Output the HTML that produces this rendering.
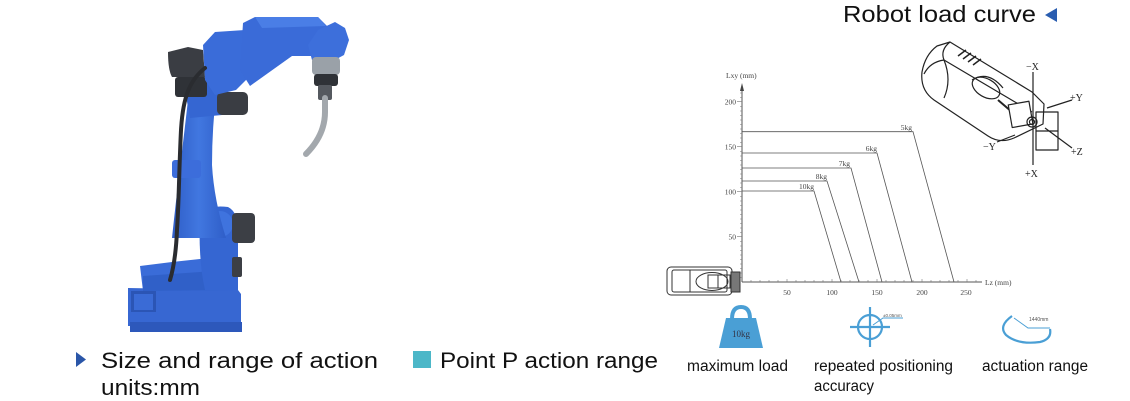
<!DOCTYPE html>
<html><head><meta charset="utf-8"><style>
html,body{margin:0;padding:0;background:#fff;}
svg{display:block;}
</style></head><body>
<svg width="1130" height="401" viewBox="0 0 1130 401" xmlns="http://www.w3.org/2000/svg">
<defs>
  <linearGradient id="bl" x1="0" y1="0" x2="1" y2="0">
    <stop offset="0" stop-color="#2f5ec8"/>
    <stop offset="0.5" stop-color="#4177e0"/>
    <stop offset="1" stop-color="#2f5ec8"/>
  </linearGradient>
</defs>
<rect width="1130" height="401" fill="#fff"/>

<!-- ROBOT -->
<g>
  <!-- base -->
  <polygon points="128,288 238,290 241,294 241,326 128,326" fill="#3767d2"/>
  <rect x="130" y="322" width="112" height="10" fill="#2d58bb"/>
  <rect x="131" y="291" width="25" height="21" fill="#2b55b5"/>
  <rect x="134" y="294" width="19" height="16" fill="#3a6bd6"/>
  <!-- waist -->
  <polygon points="140,266 172,262 200,259 232,252 235,290 143,291" fill="#3a6cd8"/>
  <polygon points="143,276 200,272 233,268 234,290 143,291" fill="#3060c8"/>
  <!-- turret -->
  <path d="M200,212 Q210,205 228,207 Q238,212 238,230 L238,290 L205,290 Q198,260 200,212 Z" fill="#3566d2"/>
  <circle cx="220" cy="224" r="13" fill="#3f73de"/>
  <!-- lower motors -->
  <rect x="232" y="213" width="23" height="30" rx="4" fill="#3c3f45"/>
  <rect x="232" y="257" width="10" height="20" rx="2" fill="#3c3f45"/>
  <!-- column -->
  <path d="M172,238 Q176,200 180,168 Q184,135 188,100 L216,96 Q212,130 212,165 Q214,200 226,238 Z" fill="url(#bl)"/>
  <!-- clamp -->
  <rect x="172" y="160" width="29" height="18" rx="3" fill="#3c6ddb"/>
  <!-- link under elbow -->
  <polygon points="183,80 220,76 222,115 190,118" fill="#3566d2"/>
  <!-- upper motors -->
  <path d="M168,52 L188,47 L203,50 L205,77 L172,77 Q168,70 168,52 Z" fill="#3a3d43"/>
  <rect x="175" y="77" width="32" height="20" rx="3" fill="#2f3237"/>
  <rect x="217" y="92" width="31" height="23" rx="5" fill="#3a3d43"/>
  <!-- elbow -->
  <polygon points="203,45 215,32 245,30 253,40 251,75 236,90 215,95 205,80" fill="#3a6cd9"/>
  <!-- upper arm -->
  <polygon points="243,23 255,17 318,17 328,27 326,45 312,56 292,56 250,86 240,70" fill="#3a6bd8"/>
  <polygon points="255,17 318,17 326,26 262,28" fill="#4a7ee6"/>
  <!-- wrist -->
  <polygon points="318,30 335,22 345,28 349,40 344,55 331,62 312,60 308,45" fill="#3d6fdb"/>
  <!-- torch -->
  <rect x="312" y="57" width="28" height="18" rx="4" fill="#9aa1a8"/>
  <rect x="314" y="74" width="24" height="12" rx="3" fill="#2f3237"/>
  <rect x="318" y="85" width="14" height="15" rx="2" fill="#55595f"/>
  <path d="M325,98 L325,112 Q325,135 306,154" fill="none" stroke="#a3a8ad" stroke-width="6" stroke-linecap="round"/>
  <!-- cable -->
  <path d="M205,68 C190,80 183,96 181,130 C179,170 179,200 177,230 C176,255 173,270 170,280" fill="none" stroke="#2a2c30" stroke-width="4" stroke-linecap="round"/>
</g>

<!-- bottom-left legend -->
<polygon points="76,352 86,359.5 76,367" fill="#2a56a8"/>
<text x="101" y="368" font-family="Liberation Sans, Arial, sans-serif" font-size="22" fill="#111" textLength="277" lengthAdjust="spacingAndGlyphs">Size and range of action</text>
<text x="101" y="395" font-family="Liberation Sans, Arial, sans-serif" font-size="22" fill="#111" textLength="99" lengthAdjust="spacingAndGlyphs">units:mm</text>
<rect x="413" y="351" width="18" height="17" fill="#4cb7c8"/>
<text x="440" y="368" font-family="Liberation Sans, Arial, sans-serif" font-size="22" fill="#111" textLength="218" lengthAdjust="spacingAndGlyphs">Point P action range</text>

<!-- title -->
<text x="843" y="22" font-family="Liberation Sans, Arial, sans-serif" font-size="23" fill="#111" textLength="193" lengthAdjust="spacingAndGlyphs">Robot load curve</text>
<polygon points="1057,8 1045,15 1057,22" fill="#2a5db0"/>

<!-- CHART -->
<g font-family="Liberation Serif, serif" font-size="7.5" fill="#444">
  <line x1="742" y1="282" x2="742" y2="88" stroke="#555" stroke-width="1"/>
  <polygon points="742,83 740,91 744,91" fill="#444"/>
  <line x1="742" y1="282" x2="982" y2="282" stroke="#555" stroke-width="1"/>
  <text x="726" y="78">Lxy (mm)</text>
  <text x="985" y="285">Lz (mm)</text>
  <g stroke="#777" stroke-width="0.6">
    <path d="M740,277.5h2M740,273h2M740,268.5h2M740,264h2M740,259.5h2M740,255h2M740,250.5h2M740,246h2M740,241.5h2M740,232.5h2M740,228h2M740,223.5h2M740,219h2M740,214.5h2M740,210h2M740,205.5h2M740,201h2M740,196.5h2M740,187.5h2M740,183h2M740,178.5h2M740,174h2M740,169.5h2M740,165h2M740,160.5h2M740,156h2M740,151.5h2M740,142.5h2M740,138h2M740,133.5h2M740,129h2M740,124.5h2M740,120h2M740,115.5h2M740,111h2M740,106.5h2M740,97.5h2M740,93h2"/>
    <path d="M751,282v-2M760,282v-2M769,282v-2M778,282v-2M787,282v-3M796,282v-2M805,282v-2M814,282v-2M823,282v-2M832,282v-3M841,282v-2M850,282v-2M859,282v-2M868,282v-2M877,282v-3M886,282v-2M895,282v-2M904,282v-2M913,282v-2M922,282v-3M931,282v-2M940,282v-2M949,282v-2M958,282v-2M967,282v-3M976,282v-2"/>
    <path d="M737,101.7h5M737,146.7h5M737,191.7h5M737,236.7h5"/>
  </g>
  <text x="736" y="104.5" text-anchor="end">200</text>
  <text x="736" y="149.5" text-anchor="end">150</text>
  <text x="736" y="194.5" text-anchor="end">100</text>
  <text x="736" y="239.5" text-anchor="end">50</text>
  <text x="787" y="295" text-anchor="middle">50</text>
  <text x="832" y="295" text-anchor="middle">100</text>
  <text x="877" y="295" text-anchor="middle">150</text>
  <text x="922" y="295" text-anchor="middle">200</text>
  <text x="966" y="295" text-anchor="middle">250</text>
  <g fill="none" stroke="#555" stroke-width="0.8">
    <path d="M742,131.7H913L954,282"/>
    <path d="M742,153H877L912,282"/>
    <path d="M742,168H851L882,282"/>
    <path d="M742,181H827L859,282"/>
    <path d="M742,191H814L841,282"/>
  </g>
  <text x="912" y="130" text-anchor="end">5kg</text>
  <text x="877" y="151" text-anchor="end">6kg</text>
  <text x="850" y="166" text-anchor="end">7kg</text>
  <text x="827" y="179" text-anchor="end">8kg</text>
  <text x="814" y="189" text-anchor="end">10kg</text>
</g>

<!-- small gripper bottom-left of chart -->
<g fill="none" stroke="#333" stroke-width="1">
  <rect x="667" y="267" width="65" height="28" rx="4"/>
  <rect x="672" y="270" width="55" height="22" rx="2"/>
  <line x1="690" y1="270" x2="690" y2="292"/>
  <ellipse cx="712" cy="281.5" rx="16" ry="9"/>
  <rect x="708" y="275" width="10" height="13"/>
  <rect x="718" y="275" width="12" height="13"/>
  <rect x="731" y="272" width="9" height="20" fill="#777"/>
</g>

<!-- top-right gripper drawing -->
<g fill="none" stroke="#222" stroke-width="1.2" stroke-linejoin="round">
  <path d="M937,46 L950,42 L1032,92 L1044,104 L1043,124 L1014,138 Q1000,144 988,136 L934,100 Q920,90 922,72 Q925,55 937,46 Z" fill="#fff"/>
  <path d="M924,74 Q930,62 944,60 L1032,112"/>
  <path d="M944,60 Q952,80 944,98" />
  <path d="M950,42 Q940,50 944,60"/>
  <path d="M958,56 L966,50 M963,59 L971,53 M968,62 L976,56 M973,65 L981,59" stroke-width="1.5"/>
  <ellipse cx="986" cy="88" rx="15" ry="9" transform="rotate(30 986 88)"/>
  <path d="M972,80 Q988,70 1003,88"/>
  <path d="M998,100 L1012,112" stroke-width="2"/>
  <rect x="1010" y="103" width="21" height="23" transform="rotate(-10 1020 114)" fill="#fff"/>
  <circle cx="1032" cy="122" r="5"/>
  <circle cx="1032" cy="122" r="2.5"/>
  <path d="M1036,112 L1058,112 L1058,150 L1036,150 Z"/>
  <path d="M1036,131 L1058,131"/>
  <path d="M1033,72 L1033,165"/>
  <path d="M1047,108 L1072,100"/>
  <path d="M997,142 L1015,135"/>
  <path d="M1045,128 L1072,148"/>
</g>
<g font-family="Liberation Serif, serif" font-size="10" fill="#222">
  <text x="1026" y="70">−X</text>
  <text x="1070" y="101">+Y</text>
  <text x="983" y="150">−Y</text>
  <text x="1071" y="155">+Z</text>
  <text x="1025" y="177">+X</text>
</g>

<!-- ICONS -->
<g fill="#4a9fd5" stroke="#4a9fd5">
  <path d="M732,319 Q732,307 741,307 Q750,307 750,319" fill="none" stroke-width="4"/>
  <path d="M726,318 L756,318 L763,348 L719,348 Z" stroke="none"/>
</g>
<text x="741" y="337" text-anchor="middle" font-family="Liberation Serif, serif" font-size="9" fill="#334">10kg</text>

<g fill="none" stroke="#4a9fd5" stroke-width="2.2">
  <circle cx="870" cy="327" r="12"/>
  <line x1="850" y1="327" x2="890" y2="327"/>
  <line x1="870" y1="307" x2="870" y2="347"/>
  <path d="M873,325 L883,318 L903,318" stroke-width="1"/>
  <path d="M1012,316 Q998,326 1006,335 Q1018,345 1040,342 Q1052,339 1050,329" />
  <path d="M1014,318 L1028,328 L1050,328" stroke-width="1"/>
</g>
<text x="883" y="317" font-family="Liberation Sans, sans-serif" font-size="4.5" fill="#555">±0.05mm</text>
<text x="1029" y="321" font-family="Liberation Sans, sans-serif" font-size="5" fill="#555">1440mm</text>

<g font-family="Liberation Sans, Arial, sans-serif" font-size="15.5" fill="#111">
  <text x="687" y="371" textLength="101" lengthAdjust="spacingAndGlyphs">maximum load</text>
  <text x="814" y="371" textLength="139" lengthAdjust="spacingAndGlyphs">repeated positioning</text>
  <text x="814" y="391" textLength="60" lengthAdjust="spacingAndGlyphs">accuracy</text>
  <text x="982" y="371" textLength="106" lengthAdjust="spacingAndGlyphs">actuation range</text>
</g>
</svg>
</body></html>
